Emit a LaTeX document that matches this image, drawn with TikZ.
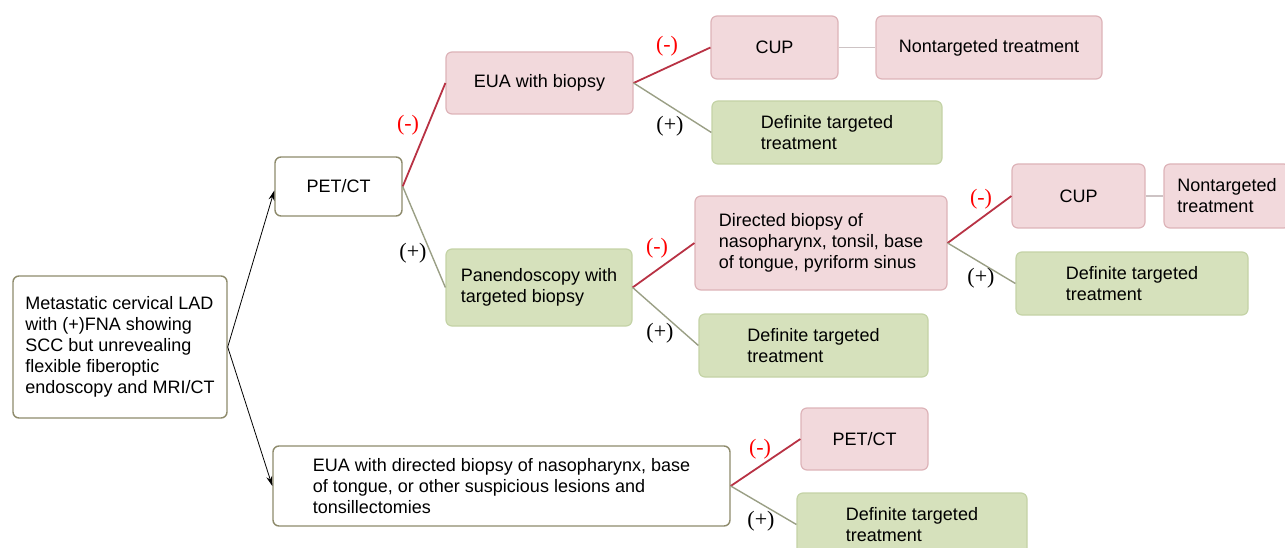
\documentclass[tikz,border=0pt]{standalone}
\usepackage{fontspec}
\setmainfont{Liberation Sans}
\newfontfamily\lblfont{Liberation Serif}
\usetikzlibrary{arrows.meta}
\definecolor{pinkfill}{HTML}{F2D9DC}
\definecolor{pinkdraw}{HTML}{DDB3B8}
\definecolor{greenfill}{HTML}{D6E1BC}
\definecolor{greendraw}{HTML}{C4D3A6}
\definecolor{olivedraw}{HTML}{8E8B6C}
\definecolor{redline}{HTML}{B83244}
\definecolor{grayline}{HTML}{9A9F85}
\definecolor{linkline}{HTML}{CDC3C4}
\begin{document}
\begin{tikzpicture}[x=1pt,y=-1pt,
  base/.style={rounded corners=6pt, align=left, inner sep=0pt,
    font=\fontsize{18}{21}\selectfont},
  whitebox/.style={base, draw=olivedraw, fill=white, line width=1.4pt},
  pinkbox/.style={base, draw=pinkdraw, fill=pinkfill, line width=1.2pt},
  greenbox/.style={base, draw=greendraw, fill=greenfill, line width=1.2pt},
  negline/.style={draw=redline, line width=1.8pt},
  posline/.style={draw=grayline, line width=1.4pt},
  linkline/.style={draw=linkline, line width=1.4pt},
  arr/.style={draw=black, line width=0.8pt, -{Stealth[length=10pt,width=6pt]}},
  neglbl/.style={font=\lblfont\fontsize{22}{22}\selectfont, text=red},
  poslbl/.style={font=\lblfont\fontsize{22}{22}\selectfont, text=black}
]
\useasboundingbox (0,0) rectangle (1285,548);

\node[whitebox, minimum width=214pt, minimum height=142pt] (start) at (120,347)
  {Metastatic cervical LAD\\with (+)FNA showing\\SCC but unrevealing\\flexible fiberoptic\\endoscopy and MRI/CT};
\node[whitebox, minimum width=127pt, minimum height=59pt] (pet1) at (338.5,186.5) {PET/CT};
\node[pinkbox, minimum width=187pt, minimum height=62pt] (eua1) at (539.5,83) {EUA with biopsy};
\node[pinkbox, minimum width=127pt, minimum height=63pt] (cup1) at (774.5,47.5) {CUP};
\node[pinkbox, minimum width=226pt, minimum height=63pt] (non1) at (989,47.5) {Nontargeted treatment};
\node[greenbox, minimum width=230pt, minimum height=63pt] (def1) at (827,132.5) {Definite targeted\\treatment};
\node[greenbox, minimum width=186pt, minimum height=77pt] (pan) at (539,287.5) {Panendoscopy with\\targeted biopsy};
\node[pinkbox, minimum width=252pt, minimum height=94pt] (dir) at (821,243)
  {Directed biopsy of\\nasopharynx, tonsil, base\\of tongue, pyriform sinus};
\node[pinkbox, minimum width=133pt, minimum height=64pt] (cup2) at (1078.5,196) {CUP};
\node[pinkbox, minimum width=126pt, minimum height=64pt] (non2) at (1227,196) {Nontargeted\\treatment};
\node[greenbox, minimum width=232pt, minimum height=63pt] (def2) at (1132,283.5) {Definite targeted\\treatment};
\node[greenbox, minimum width=229pt, minimum height=63pt] (def3) at (813.5,345.5) {Definite targeted\\treatment};
\node[whitebox, minimum width=457pt, minimum height=80pt] (eua2) at (501.5,486)
  {EUA with directed biopsy of nasopharynx, base\\of tongue, or other suspicious lesions and\\tonsillectomies};
\node[pinkbox, minimum width=127pt, minimum height=62pt] (pet3) at (864.5,439) {PET/CT};
\node[greenbox, minimum width=230pt, minimum height=63pt] (def4) at (912,524.5) {Definite targeted\\treatment};

\draw[arr] (start.east) -- ([yshift=-4pt]pet1.west);
\draw[arr] (start.east) -- (eua2.west);

\draw[negline] (pet1.east) -- (eua1.west);
\draw[posline] (pet1.east) -- (pan.west);
\draw[negline] (eua1.east) -- (cup1.west);
\draw[posline] (eua1.east) -- (def1.west);
\draw[linkline] (cup1.east) -- (non1.west);
\draw[negline] (pan.east) -- (dir.west);
\draw[posline] (pan.east) -- (def3.west);
\draw[negline] (dir.east) -- (cup2.west);
\draw[posline] (dir.east) -- (def2.west);
\draw[linkline] (cup2.east) -- (non2.west);
\draw[negline] (eua2.east) -- (pet3.west);
\draw[posline] (eua2.east) -- (def4.west);

\node[neglbl] (l1) at (408,125) {(-)};
\node[poslbl] (l2) at (413,253) {(+)};
\node[neglbl] (l3) at (667,46) {(-)};
\node[poslbl] (l4) at (670,126) {(+)};
\node[neglbl] (l5) at (657,248) {(-)};
\node[poslbl] (l6) at (660,333) {(+)};
\node[neglbl] (l7) at (981,199) {(-)};
\node[poslbl] (l8) at (981,278) {(+)};
\node[neglbl] (l9) at (760,449) {(-)};
\node[poslbl] (l10) at (761,521) {(+)};
\end{tikzpicture}
\end{document}
